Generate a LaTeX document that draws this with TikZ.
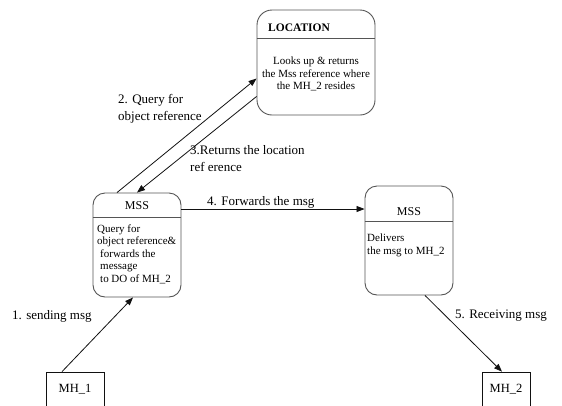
\documentclass[tikz,border=0pt]{standalone}
\usepackage{fontspec}
\usepackage{tikz}
\usetikzlibrary{positioning,arrows.meta,calc}
\setmainfont{Liberation Serif}
\newfontfamily\tms{Liberation Serif}
\definecolor{edge}{HTML}{555555}
\definecolor{ink}{HTML}{111111}
\tikzset{
  proc/.style={rectangle,rounded corners=12pt,draw=edge,line width=0.9pt,
    inner sep=0pt},
  host/.style={rectangle,draw=ink,line width=0.7pt,minimum width=58pt,
    minimum height=40pt,inner sep=0pt},
  hdr/.style={draw=edge,line width=0.9pt},
  ttl/.style={font=\tms\fontsize{12}{14}\selectfont,inner sep=0pt},
  body/.style={font=\tms\fontsize{11}{12.5}\selectfont,inner sep=0pt},
  lbl/.style={font=\tms\fontsize{13}{17}\selectfont,align=left,inner sep=0pt},
  ar/.style={-{Triangle[length=8pt,width=6pt]},line width=0.8pt,draw=ink},
}

\begin{document}
\begin{tikzpicture}[x=1pt,y=-1pt,font=\tms]
  \useasboundingbox (0,0) rectangle (562,405);
  % boxes
  \node[proc,rounded corners=15pt,minimum width=118pt,minimum height=105pt] (loc) at (316,62.5) {};
  \node[proc,minimum width=88pt,minimum height=104pt] (lmss) at (137,245) {};
  \node[proc,minimum width=88pt,minimum height=109pt] (rmss) at (409,240.5) {};
  \node[host] (mh1) at (75,392) {};
  \node[host,minimum width=48pt] (mh2) at (506,392) {};
  \draw[hdr] ([yshift=-29pt]loc.north west) -- ([yshift=-29pt]loc.north east);
  \draw[hdr] ([yshift=-25pt]lmss.north west) -- ([yshift=-25pt]lmss.north east);
  \draw[hdr] ([yshift=-36pt]rmss.north west) -- ([yshift=-36pt]rmss.north east);
  % texts in the boxes
  \node[ttl,font=\tms\fontsize{11.5}{14}\selectfont\bfseries,anchor=west] (loctitle) at (268,28) {LOCATION};
  \node[body,align=center] (locbody) at (316,74) {Looks up \& returns\\the Mss reference where\\the MH\_2 resides};
  \node[ttl] (lmsstitle) at (137,206) {MSS};
  \node[body,align=left,anchor=west] (lmssbody) at (97,254) {Query for\\object reference\&\\\hspace{3pt}forwards the\\\hspace{3pt}message\\\hspace{3pt}to DO of MH\_2};
  \node[ttl] (rmsstitle) at (409,212) {MSS};
  \node[body,align=left,anchor=west] (rmssbody) at (367,245.5) {Delivers\\the msg to MH\_2};
  \node[ttl,font=\tms\fontsize{12.5}{14}\selectfont] (mh1txt) at (mh1.center) [yshift=3pt] {MH\_1};
  \node[ttl,font=\tms\fontsize{12.5}{14}\selectfont] (mh2txt) at (mh2.center) [yshift=3pt] {MH\_2};
  % messages
  \draw[ar] ([xshift=-13pt]mh1.north) -- ([xshift=-4pt]lmss.south);
  \draw[ar] ([xshift=-20pt]lmss.north) -- ([yshift=-16pt]loc.west);
  \draw[ar] ([yshift=-34pt]loc.west) -- (lmss.north);
  \draw[ar] ([yshift=36pt]lmss.east) -- ([yshift=31.5pt]rmss.west);
  \draw[ar] ([xshift=16pt]rmss.south) -- ([xshift=-4pt]mh2.north);
  \node[lbl,anchor=west] (m1) at (12,316) {1. sending msg};
  \node[lbl,anchor=west] (m2) at (118,108.5) {2. Query for\\object reference};
  \node[lbl,anchor=west] (m3) at (190,159) {3.Returns the location\\ref erence};
  \node[lbl,anchor=west] (m4) at (207,202) {4. Forwards the msg};
  \node[lbl,anchor=west] (m5) at (455,316) {5. Receiving msg};
\end{tikzpicture}
\end{document}
